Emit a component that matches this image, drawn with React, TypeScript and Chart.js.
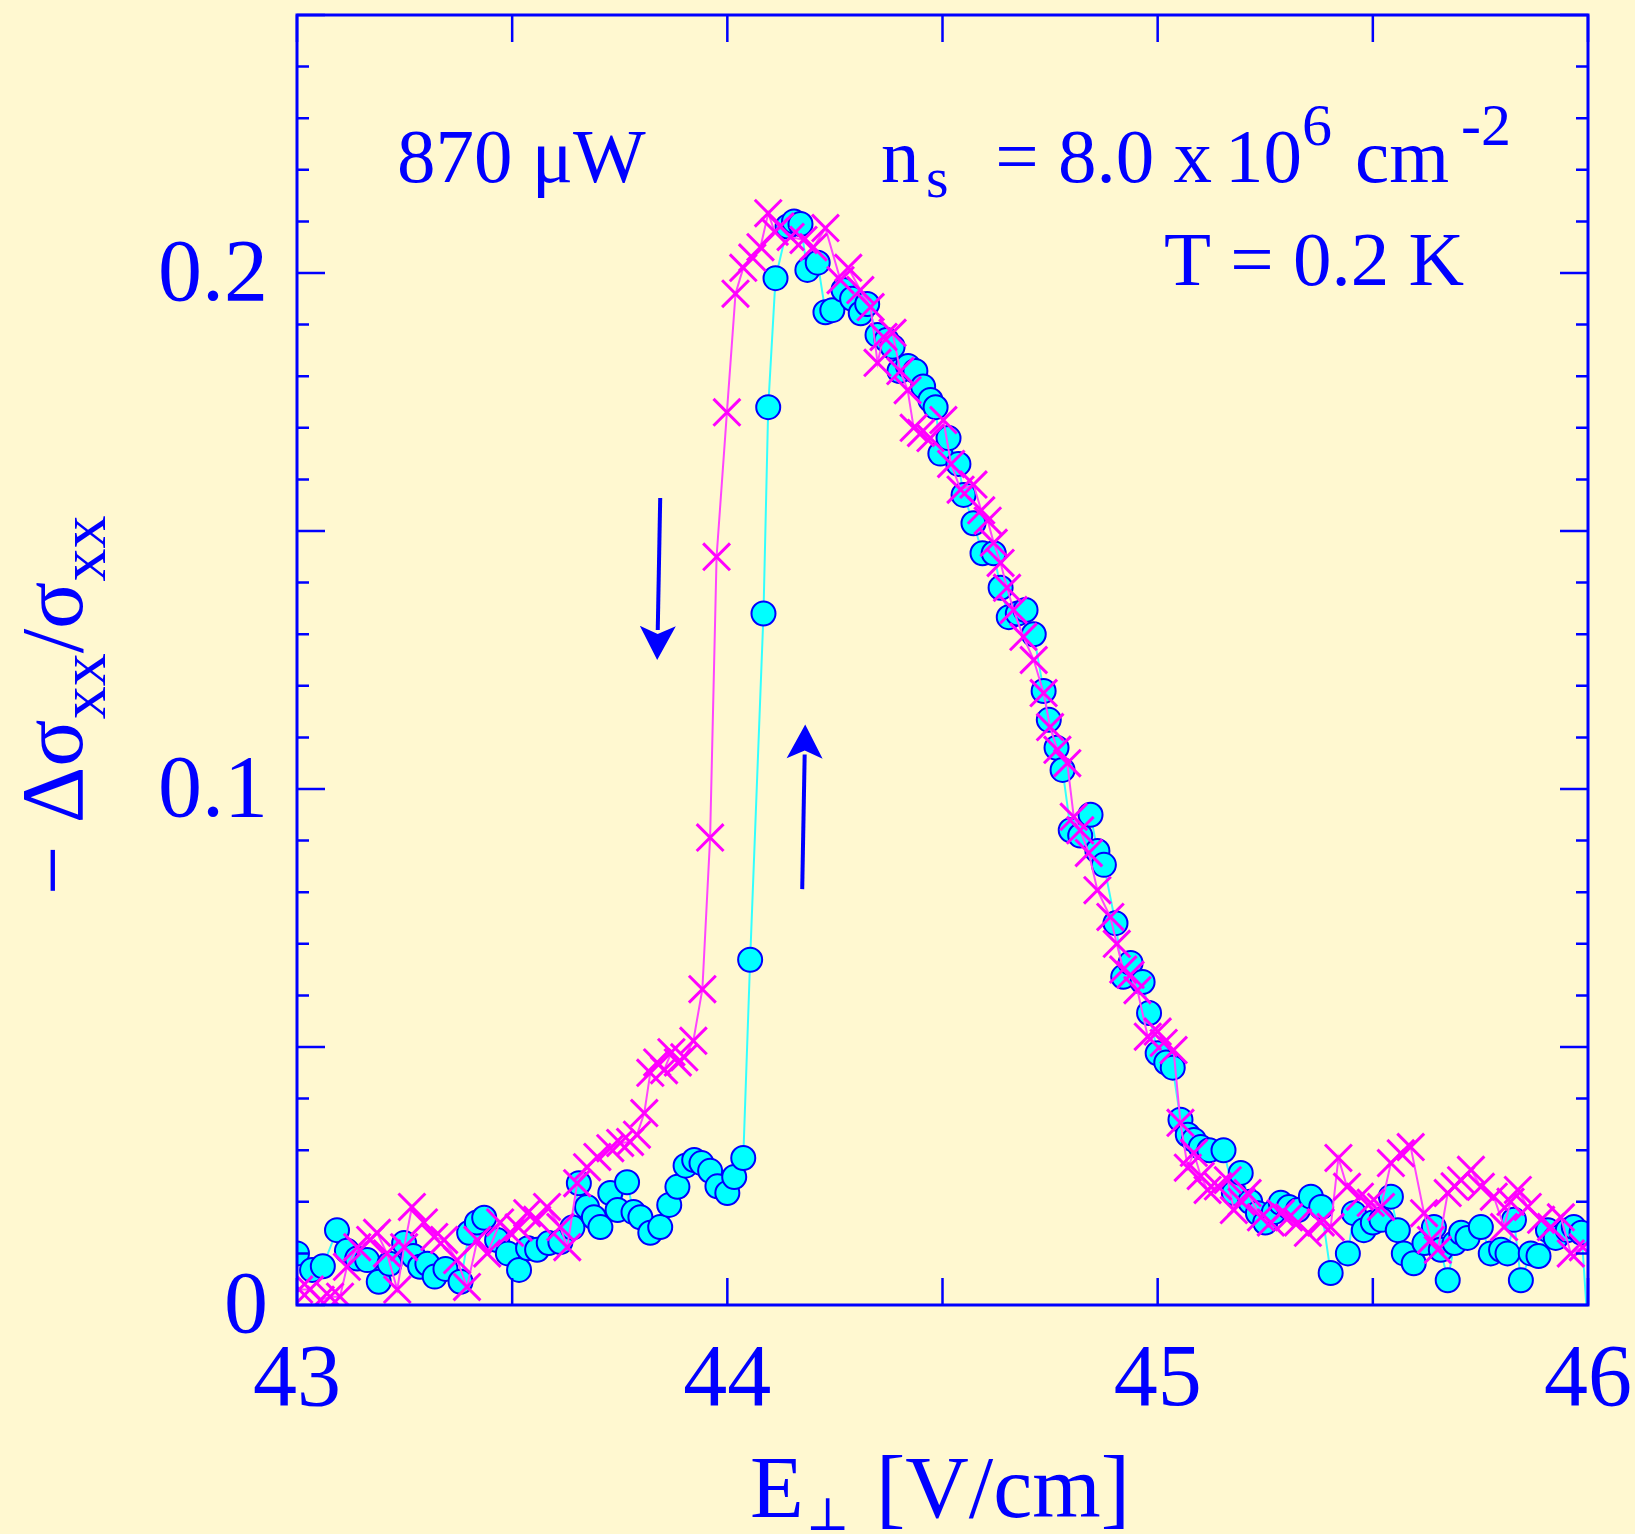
import React, { useEffect, useRef } from 'react';
import { Chart, registerables } from 'chart.js';

Chart.register(...registerables);

// ---------- data: up sweep (cyan circles) ----------
const upE = [
  43.000, 43.035, 43.060, 43.093, 43.116, 43.140, 43.163, 43.190, 43.215, 43.249,
  43.270, 43.286, 43.303, 43.320, 43.345, 43.380, 43.400, 43.418, 43.435, 43.465,
  43.490, 43.516, 43.537, 43.558, 43.585, 43.612, 43.640, 43.655, 43.674, 43.690,
  43.705, 43.728, 43.745, 43.767, 43.782, 43.798, 43.821, 43.844, 43.865, 43.884,
  43.903, 43.923, 43.940, 43.960, 43.977, 44.000, 44.016, 44.037, 44.053, 44.084,
  44.095, 44.112, 44.140, 44.155, 44.170, 44.186, 44.210, 44.228, 44.244, 44.270,
  44.290, 44.310, 44.325, 44.349, 44.370, 44.384, 44.400, 44.420, 44.437, 44.455,
  44.472, 44.484, 44.495, 44.514, 44.537, 44.549, 44.572, 44.593, 44.619, 44.635,
  44.654, 44.675, 44.693, 44.712, 44.735, 44.747, 44.765, 44.779, 44.798, 44.820,
  44.844, 44.860, 44.875, 44.902, 44.920, 44.937, 44.965, 44.980, 45.000, 45.020,
  45.035, 45.053, 45.070, 45.084, 45.100, 45.120, 45.153, 45.177, 45.193, 45.215,
  45.233, 45.250, 45.270, 45.286, 45.305, 45.326, 45.356, 45.380, 45.402, 45.442,
  45.456, 45.479, 45.500, 45.520, 45.542, 45.558, 45.572, 45.595, 45.620, 45.642,
  45.658, 45.674, 45.690, 45.705, 45.720, 45.751, 45.774, 45.798, 45.813, 45.828,
  45.844, 45.867, 45.885, 45.907, 45.925, 45.953, 45.967, 45.985, 46.000,
];
const upSigma = [
  0.0100, 0.0068, 0.0075, 0.0145, 0.0105, 0.0090, 0.0087, 0.0045, 0.0080, 0.0120,
  0.0095, 0.0074, 0.0080, 0.0055, 0.0070, 0.0045, 0.0140, 0.0160, 0.0169, 0.0126,
  0.0100, 0.0068, 0.0110, 0.0107, 0.0120, 0.0122, 0.0150, 0.0236, 0.0190, 0.0170,
  0.0151, 0.0217, 0.0184, 0.0238, 0.0180, 0.0170, 0.0140, 0.0151, 0.0194, 0.0229,
  0.0270, 0.0281, 0.0275, 0.0260, 0.0230, 0.0217, 0.0248, 0.0285, 0.0669, 0.1340,
  0.1740, 0.1990, 0.2090, 0.2100, 0.2095, 0.2006, 0.2020, 0.1924, 0.1928, 0.1967,
  0.1950, 0.1922, 0.1940, 0.1880, 0.1870, 0.1857, 0.1810, 0.1820, 0.1810, 0.1780,
  0.1754, 0.1740, 0.1650, 0.1680, 0.1630, 0.1570, 0.1515, 0.1457, 0.1457, 0.1390,
  0.1333, 0.1340, 0.1347, 0.1300, 0.1190, 0.1134, 0.1080, 0.1037, 0.0920, 0.0910,
  0.0950, 0.0880, 0.0853, 0.0740, 0.0636, 0.0663, 0.0626, 0.0566, 0.0488, 0.0470,
  0.0460, 0.0359, 0.0330, 0.0320, 0.0306, 0.0300, 0.0300, 0.0217, 0.0256, 0.0200,
  0.0178, 0.0160, 0.0180, 0.0198, 0.0190, 0.0184, 0.0210, 0.0190, 0.0062, 0.0100,
  0.0178, 0.0145, 0.0160, 0.0165, 0.0210, 0.0145, 0.0100, 0.0081, 0.0120, 0.0151,
  0.0107, 0.0048, 0.0120, 0.0140, 0.0130, 0.0151, 0.0100, 0.0107, 0.0100, 0.0165,
  0.0048, 0.0100, 0.0095, 0.0145, 0.0130, 0.0145, 0.0151, 0.0140, -0.0050,
];

// ---------- data: down sweep (magenta crosses) ----------
const downE = [
  43.005, 43.030, 43.055, 43.077, 43.100, 43.116, 43.140, 43.170, 43.186, 43.209,
  43.233, 43.249, 43.267, 43.295, 43.319, 43.342, 43.372, 43.395, 43.419, 43.442,
  43.472, 43.495, 43.515, 43.535, 43.558, 43.581, 43.612, 43.628, 43.651, 43.674,
  43.698, 43.728, 43.751, 43.774, 43.790, 43.807, 43.821, 43.837, 43.853, 43.870,
  43.885, 43.900, 43.921, 43.942, 43.960, 43.975, 43.999, 44.019, 44.037, 44.058,
  44.077, 44.095, 44.110, 44.123, 44.147, 44.177, 44.200, 44.228, 44.263, 44.281,
  44.309, 44.333, 44.349, 44.363, 44.384, 44.402, 44.419, 44.433, 44.450, 44.472,
  44.502, 44.520, 44.542, 44.572, 44.590, 44.605, 44.619, 44.635, 44.650, 44.665,
  44.688, 44.712, 44.735, 44.750, 44.767, 44.790, 44.805, 44.820, 44.840, 44.860,
  44.890, 44.905, 44.920, 44.937, 44.953, 44.977, 45.000, 45.014, 45.037, 45.053,
  45.070, 45.084, 45.100, 45.116, 45.140, 45.163, 45.177, 45.195, 45.209, 45.240,
  45.263, 45.286, 45.305, 45.326, 45.349, 45.379, 45.402, 45.420, 45.440, 45.470,
  45.495, 45.519, 45.542, 45.565, 45.588, 45.619, 45.635, 45.651, 45.674, 45.690,
  45.705, 45.728, 45.751, 45.781, 45.805, 45.820, 45.837, 45.860, 45.891, 45.914,
  45.937, 45.960, 45.988,
];
const downSigma = [
  0.0030, 0.0030, 0.0010, 0.0016, 0.0016, 0.0074, 0.0112, 0.0126, 0.0140, 0.0100,
  0.0030, 0.0112, 0.0190, 0.0160, 0.0132, 0.0126, 0.0087, 0.0035, 0.0126, 0.0100,
  0.0160, 0.0140, 0.0150, 0.0178, 0.0165, 0.0190, 0.0151, 0.0112, 0.0236, 0.0267,
  0.0287, 0.0304, 0.0314, 0.0316, 0.0330, 0.0372, 0.0450, 0.0470, 0.0455, 0.0490,
  0.0470, 0.0480, 0.0512, 0.0612, 0.0906, 0.1450, 0.1730, 0.1960, 0.2010, 0.2030,
  0.2050, 0.2116, 0.2080, 0.2090, 0.2070, 0.2064, 0.2050, 0.2087, 0.1986, 0.2010,
  0.1967, 0.1934, 0.1826, 0.1876, 0.1884, 0.1810, 0.1773, 0.1700, 0.1690, 0.1680,
  0.1715, 0.1630, 0.1580, 0.1590, 0.1540, 0.1520, 0.1477, 0.1438, 0.1390, 0.1347,
  0.1295, 0.1250, 0.1186, 0.1120, 0.1076, 0.1050, 0.0946, 0.0920, 0.0876, 0.0804,
  0.0752, 0.0700, 0.0650, 0.0640, 0.0610, 0.0520, 0.0530, 0.0508, 0.0494, 0.0353,
  0.0266, 0.0295, 0.0250, 0.0223, 0.0230, 0.0242, 0.0184, 0.0200, 0.0217, 0.0170,
  0.0160, 0.0178, 0.0170, 0.0160, 0.0140, 0.0160, 0.0151, 0.0285, 0.0229, 0.0210,
  0.0198, 0.0190, 0.0275, 0.0294, 0.0306, 0.0178, 0.0126, 0.0107, 0.0217, 0.0230,
  0.0242, 0.0262, 0.0229, 0.0210, 0.0151, 0.0200, 0.0223, 0.0190, 0.0165, 0.0151,
  0.0170, 0.0100, 0.0112,
];

// ---------- axes ----------
const xMin = 43;
const xMax = 46;
const yMin = 0;
const yMax = 0.25;
const xTickValues = [43, 43.5, 44, 44.5, 45, 45.5, 46];
const xLabelValues = [43, 44, 45, 46];
const xTickLabels = ['43', '44', '45', '46'];
const yMajorTickValues = [0, 0.05, 0.1, 0.15, 0.2, 0.25];
const yMinorTickValues = [
  0.01, 0.02, 0.03, 0.04, 0.06, 0.07, 0.08, 0.09, 0.11, 0.12, 0.13, 0.14,
  0.16, 0.17, 0.18, 0.19, 0.21, 0.22, 0.23, 0.24,
];
const yLabelValues = [0, 0.1, 0.2];
const yTickLabels = ['0', '0.1', '0.2'];

// sweep-direction arrows (data coordinates: [E, sigma])
const arrowDownFrom = [43.844, 0.1564];
const arrowDownTo = [43.837, 0.125];
const arrowUpFrom = [44.174, 0.0806];
const arrowUpTo = [44.181, 0.1125];

const BLUE = '#0000ff';
const BG = '#fff8d0';
const SERIF = '"Liberation Serif", "Times New Roman", serif';

// target plot frame (canvas px)
const PLOT_LEFT = 297;
const PLOT_TOP = 15;
const PLOT_RIGHT = 1588;
const PLOT_BOTTOM = 1305;

function drawArrow(ctx: CanvasRenderingContext2D, x0: number, y0: number, x1: number, y1: number) {
  const dx = x1 - x0;
  const dy = y1 - y0;
  const len = Math.hypot(dx, dy);
  const ux = dx / len;
  const uy = dy / len;
  const headLen = 34;
  const headHalf = 18;
  const bx = x1 - ux * headLen;
  const by = y1 - uy * headLen;
  ctx.save();
  ctx.strokeStyle = BLUE;
  ctx.fillStyle = BLUE;
  ctx.lineWidth = 4;
  ctx.beginPath();
  ctx.moveTo(x0, y0);
  ctx.lineTo(bx + ux * 4, by + uy * 4);
  ctx.stroke();
  ctx.beginPath();
  ctx.moveTo(x1, y1);
  ctx.lineTo(bx - uy * headHalf, by + ux * headHalf);
  ctx.lineTo(bx + ux * 8, by + uy * 8);
  ctx.lineTo(bx + uy * headHalf, by - ux * headHalf);
  ctx.closePath();
  ctx.fill();
  ctx.restore();
}

const bgPlugin = {
  id: 'bgFill',
  beforeDraw(chart: any) {
    const { ctx, width, height } = chart;
    ctx.save();
    ctx.fillStyle = BG;
    ctx.fillRect(0, 0, width, height);
    ctx.restore();
  },
};

const framePlugin = {
  id: 'frameAndText',
  afterDatasetsDraw(chart: any) {
    const { ctx, chartArea, scales } = chart;
    const { left, right, top, bottom } = chartArea;
    const xs = scales.x;
    const ys = scales.y;
    ctx.save();
    ctx.strokeStyle = BLUE;
    ctx.lineWidth = 2.5;
    ctx.beginPath();
    xTickValues.forEach((v) => {
      const px = xs.getPixelForValue(v);
      ctx.moveTo(px, bottom);
      ctx.lineTo(px, bottom - 27);
      ctx.moveTo(px, top);
      ctx.lineTo(px, top + 27);
    });
    yMajorTickValues.forEach((v) => {
      const py = ys.getPixelForValue(v);
      ctx.moveTo(left, py);
      ctx.lineTo(left + 28, py);
      ctx.moveTo(right, py);
      ctx.lineTo(right - 28, py);
    });
    yMinorTickValues.forEach((v) => {
      const py = ys.getPixelForValue(v);
      ctx.moveTo(left, py);
      ctx.lineTo(left + 12, py);
      ctx.moveTo(right, py);
      ctx.lineTo(right - 12, py);
    });
    ctx.stroke();
    ctx.lineWidth = 3;
    ctx.strokeRect(left, top, right - left, bottom - top);

    // tick labels
    ctx.fillStyle = BLUE;
    ctx.font = `88px ${SERIF}`;
    ctx.textBaseline = 'alphabetic';
    ctx.textAlign = 'right';
    yLabelValues.forEach((v, i) => {
      const py = ys.getPixelForValue(v);
      ctx.fillText(yTickLabels[i], left - 29, py + 27);
    });
    ctx.textAlign = 'center';
    xLabelValues.forEach((v, i) => {
      const px = xs.getPixelForValue(v);
      ctx.fillText(xTickLabels[i], px, bottom + 100);
    });

    // arrows
    drawArrow(
      ctx,
      xs.getPixelForValue(arrowDownFrom[0]), ys.getPixelForValue(arrowDownFrom[1]),
      xs.getPixelForValue(arrowDownTo[0]), ys.getPixelForValue(arrowDownTo[1])
    );
    drawArrow(
      ctx,
      xs.getPixelForValue(arrowUpFrom[0]), ys.getPixelForValue(arrowUpFrom[1]),
      xs.getPixelForValue(arrowUpTo[0]), ys.getPixelForValue(arrowUpTo[1])
    );

    // annotations
    ctx.textAlign = 'left';
    ctx.font = `77px ${SERIF}`;
    ctx.fillText('870 \u03bcW', 397, 182);

    ctx.fillText('n', 881, 182);
    ctx.font = `58px ${SERIF}`;
    ctx.fillText('s', 926, 197);
    ctx.font = `77px ${SERIF}`;
    ctx.textAlign = 'right';
    ctx.fillText('= 8.0 x', 1212, 182);
    ctx.textAlign = 'left';
    ctx.fillText('10', 1225, 182);
    ctx.font = `60px ${SERIF}`;
    ctx.fillText('6', 1302, 145);
    ctx.font = `77px ${SERIF}`;
    ctx.fillText('cm', 1355, 182);
    ctx.font = `60px ${SERIF}`;
    ctx.fillText('-2', 1461, 145);

    ctx.font = `77px ${SERIF}`;
    ctx.textAlign = 'right';
    ctx.fillText('T = 0.2 K', 1464, 285);

    // x axis title
    ctx.textAlign = 'left';
    ctx.font = `88px ${SERIF}`;
    ctx.fillText('E', 750, 1517);
    ctx.font = `46px "DejaVu Serif", serif`;
    ctx.fillText('\u22a5', 806, 1530);
    ctx.font = `88px ${SERIF}`;
    ctx.fillText('[V/cm]', 876, 1517);

    // y axis title (rotated)
    ctx.save();
    ctx.translate(82, 895);
    ctx.rotate(-Math.PI / 2);
    let cx = 0;
    const seg = (t: string, size: number, dy: number) => {
      ctx.font = `${size}px ${SERIF}`;
      ctx.fillText(t, cx, dy);
      cx += ctx.measureText(t).width;
    };
    seg('\u2212 \u0394\u03c3', 88, 0);
    seg('xx', 66, 23);
    seg('/\u03c3', 88, 0);
    seg('xx', 66, 23);
    ctx.restore();

    ctx.restore();
  },
};

export default function App() {
  const canvasRef = useRef<HTMLCanvasElement | null>(null);

  useEffect(() => {
    const canvas = canvasRef.current;
    if (!canvas) return;
    const chart = new Chart(canvas, {
      type: 'line',
      data: {
        datasets: [
          {
            label: 'down sweep',
            data: downE.map((e, i) => ({ x: e, y: downSigma[i] })),
            borderColor: '#ff44ff',
            borderWidth: 2,
            pointStyle: 'crossRot',
            pointRadius: 19,
            pointBorderColor: '#ff00ff',
            pointBackgroundColor: '#ff00ff',
            pointBorderWidth: 3,
            tension: 0,
            order: 0,
          },
          {
            label: 'up sweep',
            data: upE.map((e, i) => ({ x: e, y: upSigma[i] })),
            borderColor: '#33ffff',
            borderWidth: 2,
            pointStyle: 'circle',
            pointRadius: 12,
            pointBackgroundColor: '#00ffff',
            pointBorderColor: '#0000ff',
            pointBorderWidth: 2,
            tension: 0,
            order: 1,
          },
        ],
      },
      options: {
        animation: false,
        responsive: false,
        events: [],
        layout: {
          autoPadding: false,
          padding: { top: PLOT_TOP, right: 1635 - PLOT_RIGHT, left: 0, bottom: 0 },
        },
        plugins: {
          legend: { display: false },
          tooltip: { enabled: false },
        },
        scales: {
          x: {
            type: 'linear',
            min: xMin,
            max: xMax,
            grid: { display: false },
            border: { display: false },
            ticks: { display: false },
            afterFit: (s: any) => {
              s.height = 1534 - PLOT_BOTTOM;
            },
          },
          y: {
            type: 'linear',
            min: yMin,
            max: yMax,
            grid: { display: false },
            border: { display: false },
            ticks: { display: false },
            afterFit: (s: any) => {
              s.width = PLOT_LEFT;
            },
          },
        },
      },
      plugins: [bgPlugin, framePlugin],
    } as any);
    return () => {
      chart.destroy();
    };
  }, []);

  return (
    <div
      style={{
        position: 'fixed',
        left: 0,
        top: 0,
        width: 1635,
        height: 1534,
        background: BG,
      }}
    >
      <canvas ref={canvasRef} width={1635} height={1534} style={{ display: 'block' }} />
    </div>
  );
}
